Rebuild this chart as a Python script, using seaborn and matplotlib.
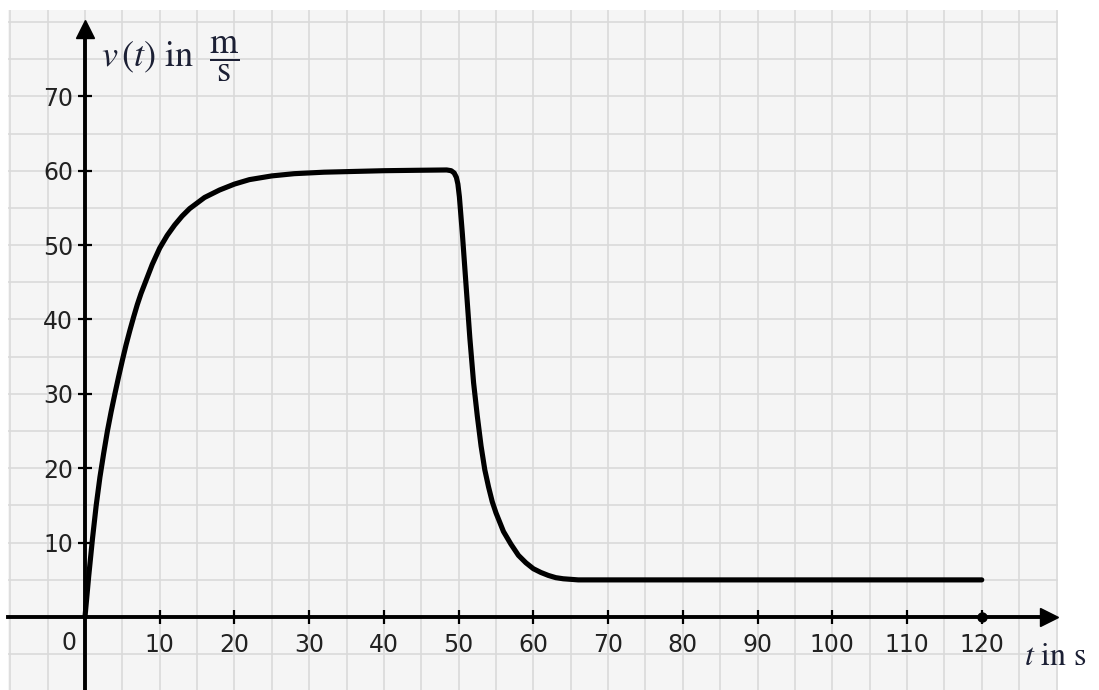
import matplotlib
matplotlib.use("Agg")
import matplotlib.pyplot as plt
from matplotlib.ticker import MultipleLocator
import pandas as pd
import seaborn as sns

# ---------------------- Data ---------------------- #

# time in s and speed in m/s
time_s = [0, 0.5, 1, 1.5, 2, 2.5, 3, 3.5, 4, 4.5, 5, 5.5, 6, 6.5, 7, 7.5,
          8, 9, 10, 11, 12, 13, 14, 16, 18,
          20, 22, 25, 28, 32, 36, 40, 44, 48.4,
          49.0, 49.4, 49.7, 49.9, 50.1, 50.5, 51.0, 51.5, 52.0, 52.5, 53.0,
          53.5, 54.0, 54.5, 55.0, 56.0, 57.0, 58.0, 59.0, 60.0, 61.0, 62.0,
          63.0, 64.0, 66.0, 70, 80, 100, 120]
speed_ms = [0, 5.5, 10.5, 15, 18.8, 22, 25, 27.6, 30, 32.3, 34.5, 36.6,
            38.5, 40.3, 42, 43.5, 44.8, 47.4, 49.6, 51.3, 52.7, 53.9, 54.9,
            56.4, 57.4, 58.2, 58.8, 59.3, 59.6, 59.8, 59.9, 60, 60.05, 60.1,
            60.0, 59.7, 59.1, 58.2, 56.5, 51.5, 44.5, 37.5, 31.5, 27.0, 23.0,
            19.8, 17.5, 15.5, 14.0, 11.5, 9.8, 8.3, 7.3, 6.5, 6.0, 5.6,
            5.3, 5.15, 5.0, 5.0, 5.0, 5.0, 5.0]

x_ticks = [10, 20, 30, 40, 50, 60, 70, 80, 90, 100, 110, 120]
y_ticks = [10, 20, 30, 40, 50, 60, 70]

df = pd.DataFrame({"t": time_s, "v": speed_ms})

# ---------------------- Figure ---------------------- #

sns.set_style("white")
plt.rcParams["font.family"] = ["DejaVu Sans"]
plt.rcParams["mathtext.fontset"] = "stix"

W, H = 1099, 690
fig = plt.figure(figsize=(W / 100, H / 100), dpi=100)
fig.patch.set_facecolor("white")
ax = fig.add_axes([8 / W, 0, 1050 / W, 680 / H])
ax.set_facecolor("#f5f5f5")
ax.set_xlim(-10.3, 130.2)
ax.set_ylim(-9.8, 81.6)

# grid every 5 units
ax.xaxis.set_minor_locator(MultipleLocator(5))
ax.yaxis.set_minor_locator(MultipleLocator(5))
ax.set_xticks(x_ticks)
ax.set_yticks(y_ticks)
ax.grid(which="both", color="#dadada", lw=1.2)
ax.set_axisbelow(True)

# axes crossing at origin
for side in ["top", "right"]:
    ax.spines[side].set_visible(False)
ax.spines["left"].set_position(("data", 0))
ax.spines["bottom"].set_position(("data", 0))
ax.spines["left"].set_bounds(-9.8, 78)
ax.spines["bottom"].set_bounds(-10.3, 128)
for side in ["left", "bottom"]:
    ax.spines[side].set_linewidth(2.8)
    ax.spines[side].set_color("black")

ax.tick_params(which="major", bottom=True, left=True, direction="inout",
               length=10, width=1.6, labelsize=17, labelcolor="#222222",
               color="black")
ax.tick_params(axis="x", which="major", pad=6.5)
ax.tick_params(axis="y", which="major", pad=3.6)
ax.tick_params(which="minor", length=0)

# arrow heads
ax.plot([129.0], [0], marker=">", ms=12.5, color="black", clip_on=False)
ax.plot([0], [79.0], marker="^", ms=12.5, color="black", clip_on=False)

# curve
sns.lineplot(data=df, x="t", y="v", ax=ax, color="black", lw=3.7,
             estimator=None, sort=False)
ax.lines[-1].set_solid_joinstyle("round")
ax.lines[-1].set_solid_capstyle("round")

# end marker on the time axis
ax.plot([time_s[-1]], [0], "o", ms=6.5, color="black", zorder=5)

ax.set_xlabel("")
ax.set_ylabel("")

# labels
ax.text(-2.1, -3.5, "0", ha="center", va="center", fontsize=17, color="#222222")
ax.text(2.2, 75.0, r"$v\,\left(t\right)\ \mathrm{in}\ \ \dfrac{\mathrm{m}}{\mathrm{s}}$",
        ha="left", va="center", fontsize=26, color="#1c2035")
ax.text(125.6, -6.4, r"$t\ \mathrm{in\ s}$", ha="left", va="baseline",
        fontsize=23, color="#1c2035", clip_on=False)

fig.savefig("out.png", dpi=100)
